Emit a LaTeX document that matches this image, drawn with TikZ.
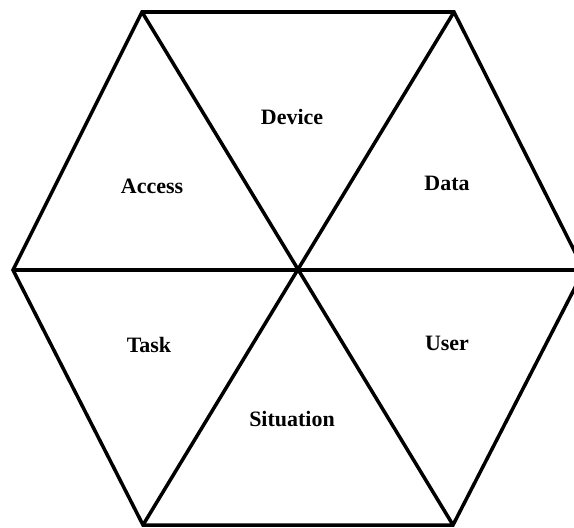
\documentclass[tikz,border=0pt]{standalone}
\usepackage{fontspec}
\setmainfont{Liberation Serif}
\usepackage{tikz}
\usetikzlibrary{positioning}
\tikzstyle{edge}=[line width=2pt]
\tikzstyle{lbl}=[font=\fontsize{12.5}{15}\selectfont\bfseries, inner sep=1pt]

\begin{document}
\begin{tikzpicture}[x=0.02cm, y=-0.02cm]
	\useasboundingbox (0, 0) rectangle (574, 527);
	% corners of the hexagon and its centre
	\coordinate (0) at (298, 270);
	\coordinate (1) at (13, 270);
	\coordinate (2) at (142, 12);
	\coordinate (3) at (454, 12);
	\coordinate (4) at (584, 270);
	\coordinate (5) at (453, 525);
	\coordinate (6) at (143, 525);
	% outline and the three diagonals
	\draw [edge] (1) -- (2) -- (3) -- (4) -- (5) -- (6) -- cycle;
	\draw [edge] (1) to (4);
	\draw [edge] (2) to (5);
	\draw [edge] (3) to (6);
	\node [lbl] (dev) at (292, 117) {Device};
	\node [lbl] (acc) at (152, 186) {Access};
	\node [lbl] (dat) at (447, 183) {Data};
	\node [lbl] (tsk) at (149, 345) {Task};
	\node [lbl] (usr) at (447, 343) {User};
	\node [lbl] (sit) at (292, 419) {Situation};
\end{tikzpicture}
\end{document}
